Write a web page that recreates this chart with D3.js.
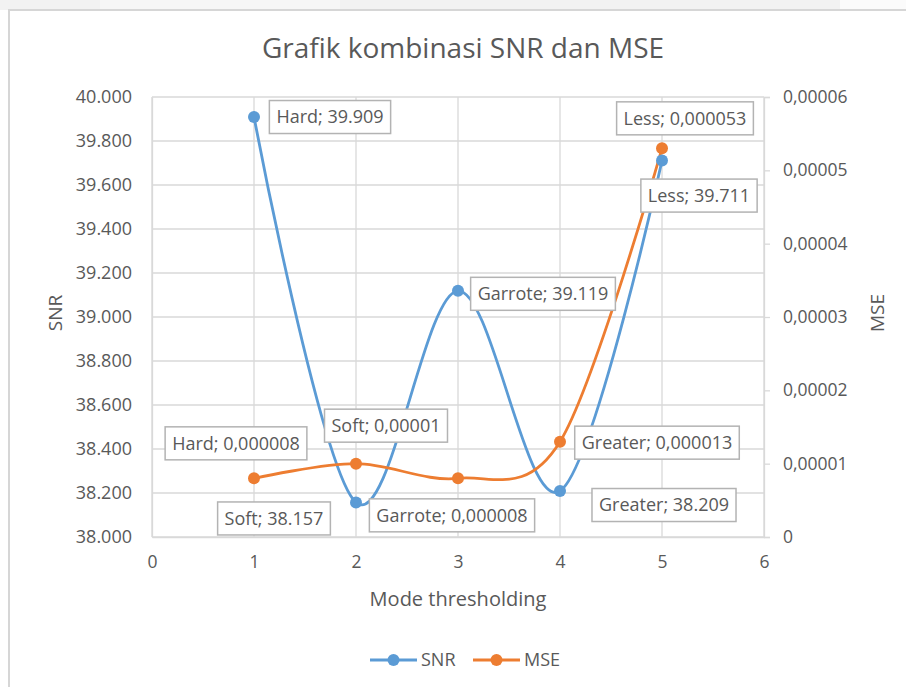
<!DOCTYPE html>
<html><head><meta charset="utf-8">
<script src="https://cdn.jsdelivr.net/npm/d3@7"></script>
<style>html,body{margin:0;padding:0;background:#fff;}svg{display:block;}</style>
</head><body>
<svg id="chart" width="906" height="687"></svg>
<script>
// ---- data ----
const categories = ["Hard", "Soft", "Garrote", "Greater", "Less"];
const xValues = [1, 2, 3, 4, 5];
const snrValues = [39.909, 38.157, 39.119, 38.209, 39.711];
const mseValues = [0.000008, 0.00001, 0.000008, 0.000013, 0.000053];
const snrLabels = ["39.909", "38.157", "39.119", "38.209", "39.711"];
const mseLabels = ["0,000008", "0,00001", "0,000008", "0,000013", "0,000053"];
const xTicks = [0, 1, 2, 3, 4, 5, 6];
const snrTicks = [38, 38.2, 38.4, 38.6, 38.8, 39, 39.2, 39.4, 39.6, 39.8, 40];
const snrTickLabels = ["38.000","38.200","38.400","38.600","38.800","39.000","39.200","39.400","39.600","39.800","40.000"];
const mseTicks = [0, 0.00001, 0.00002, 0.00003, 0.00004, 0.00005, 0.00006];
const mseTickLabels = ["0","0,00001","0,00002","0,00003","0,00004","0,00005","0,00006"];
const seriesNames = ["SNR", "MSE"];

// ---- layout ----
const FONT = "'Open Sans', 'Noto Sans', sans-serif";
const TXT = "#595959";
const GRID = "#d9d9d9";
const COLORS = ["#5b9bd5", "#ed7d31"];
const plot = {left: 152, right: 764, top: 97, bottom: 537};
// label centre offsets from the point (px)
const snrLabelOffsets = [[76, 0], [-82, 16], [85, 3], [104, 14], [37, 35]];
const mseLabelOffsets = [[-18, -35], [30, -38], [-6, 37], [97, 1], [23, -30]];

const svg = d3.select("#chart");

// page background / frame
svg.append("rect").attr("x", 0).attr("y", 0).attr("width", 906).attr("height", 10).attr("fill", "#f2f2f2");
svg.append("rect").attr("x", 100).attr("y", 0).attr("width", 240).attr("height", 10).attr("fill", "#f6f6f6");
svg.append("rect").attr("x", 840).attr("y", 0).attr("width", 66).attr("height", 10).attr("fill", "#fbfbfb");
svg.append("rect").attr("x", 9).attr("y", 10).attr("width", 910).attr("height", 700)
  .attr("fill", "#fff").attr("stroke", "#d6d6d6").attr("stroke-width", 2);

const x = d3.scaleLinear().domain([0, 6]).range([plot.left, plot.right]);
const ySnr = d3.scaleLinear().domain([38, 40]).range([plot.bottom, plot.top]);
const yMse = d3.scaleLinear().domain([0, 0.00006]).range([plot.bottom, plot.top]);

// gridlines
const g = svg.append("g");
g.selectAll("line.h").data(snrTicks).join("line")
  .attr("x1", plot.left).attr("x2", plot.right)
  .attr("y1", d => ySnr(d)).attr("y2", d => ySnr(d))
  .attr("stroke", GRID).attr("stroke-width", 1.3);
g.selectAll("line.v").data(xTicks).join("line")
  .attr("x1", d => x(d)).attr("x2", d => x(d))
  .attr("y1", plot.top).attr("y2", plot.bottom)
  .attr("stroke", GRID).attr("stroke-width", 1.3);

// axes
const leftAxis = svg.append("g").attr("transform", `translate(${plot.left},0)`)
  .call(d3.axisLeft(ySnr).tickValues(snrTicks).tickSize(0).tickPadding(20)
    .tickFormat((d, i) => snrTickLabels[i]));
leftAxis.select(".domain").attr("stroke", GRID).attr("stroke-width", 1.3);
leftAxis.selectAll("text").attr("fill", TXT).style("font-family", FONT).style("font-size", "18px");

const rightAxis = svg.append("g").attr("transform", `translate(${plot.right},0)`)
  .call(d3.axisRight(yMse).tickValues(mseTicks).tickSize(6).tickPadding(13).tickSizeOuter(6)
    .tickFormat((d, i) => mseTickLabels[i]));
rightAxis.select(".domain").attr("stroke", GRID).attr("stroke-width", 1.3);
rightAxis.selectAll(".tick line").attr("stroke", GRID).attr("stroke-width", 1.3);
rightAxis.selectAll("text").attr("fill", TXT).style("font-family", FONT).style("font-size", "17.5px");

const bottomAxis = svg.append("g").attr("transform", `translate(0,${plot.bottom})`)
  .call(d3.axisBottom(x).tickValues(xTicks).tickSize(0).tickPadding(19).tickFormat(d3.format("d")));
bottomAxis.select(".domain").attr("stroke", GRID).attr("stroke-width", 1.3);
bottomAxis.selectAll("text").attr("fill", TXT).style("font-family", FONT).style("font-size", "17.5px");

// titles
svg.append("text").attr("x", 463).attr("y", 58).attr("text-anchor", "middle")
  .attr("fill", TXT).style("font-family", FONT).style("font-size", "28px").text("Grafik kombinasi SNR dan MSE");
svg.append("text").attr("x", 458).attr("y", 606).attr("text-anchor", "middle")
  .attr("fill", TXT).style("font-family", FONT).style("font-size", "20px").text("Mode thresholding");
svg.append("text").attr("transform", "translate(62,313) rotate(-90)").attr("text-anchor", "middle")
  .attr("fill", TXT).style("font-family", FONT).style("font-size", "19px").text("SNR");
svg.append("text").attr("transform", "translate(884,313) rotate(-90)").attr("text-anchor", "middle")
  .attr("fill", TXT).style("font-family", FONT).style("font-size", "19px").text("MSE");

// series
const series = [
  {name: seriesNames[0], vals: snrValues, y: ySnr, labels: snrLabels, offs: snrLabelOffsets, color: COLORS[0]},
  {name: seriesNames[1], vals: mseValues, y: yMse, labels: mseLabels, offs: mseLabelOffsets, color: COLORS[1]}
];
const line = d3.line().curve(d3.curveCardinal.tension(0));
series.forEach(s => {
  const pts = xValues.map((xv, i) => [x(xv), s.y(s.vals[i])]);
  svg.append("path").attr("d", line(pts)).attr("fill", "none")
    .attr("stroke", s.color).attr("stroke-width", 2.8).attr("stroke-linecap", "round");
});
series.forEach(s => {
  svg.append("g").selectAll("circle").data(s.vals).join("circle")
    .attr("cx", (d, i) => x(xValues[i])).attr("cy", d => s.y(d)).attr("r", 6)
    .attr("fill", s.color);
});
// data labels
series.forEach(s => {
  s.vals.forEach((v, i) => {
    const cx = x(xValues[i]) + s.offs[i][0];
    const cy = s.y(v) + s.offs[i][1];
    const lg = svg.append("g");
    const t = lg.append("text").attr("x", cx).attr("y", cy).attr("dy", "0.35em")
      .attr("text-anchor", "middle").attr("fill", TXT)
      .style("font-family", FONT).style("font-size", "18px")
      .text(categories[i] + "; " + s.labels[i]);
    const bb = t.node().getBBox();
    lg.insert("rect", "text").attr("x", cx - bb.width / 2 - 7).attr("y", cy - 16.5)
      .attr("width", bb.width + 14).attr("height", 33)
      .attr("fill", "#fff").attr("stroke", "#b3b3b3").attr("stroke-width", 1.5);
  });
});

// legend
const legend = [{x: 370, name: seriesNames[0], color: COLORS[0]}, {x: 473, name: seriesNames[1], color: COLORS[1]}];
legend.forEach(l => {
  svg.append("line").attr("x1", l.x).attr("x2", l.x + 47).attr("y1", 660).attr("y2", 660)
    .attr("stroke", l.color).attr("stroke-width", 2.8);
  svg.append("circle").attr("cx", l.x + 23.5).attr("cy", 660).attr("r", 6).attr("fill", l.color);
  svg.append("text").attr("x", l.x + 51).attr("y", 660).attr("dy", "0.35em").attr("fill", TXT)
    .style("font-family", FONT).style("font-size", "18px").text(l.name);
});
</script>
</body></html>
